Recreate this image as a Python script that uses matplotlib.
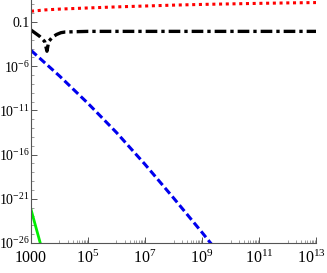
import numpy as np
import matplotlib
matplotlib.use("Agg")
import matplotlib.pyplot as plt
import matplotlib.transforms as mtransforms
from matplotlib.ticker import FixedLocator, NullFormatter

plt.rcParams['font.family'] = 'Liberation Serif'
plt.rcParams['mathtext.fontset'] = 'custom'
plt.rcParams['mathtext.rm'] = 'Liberation Serif'
plt.rcParams['mathtext.it'] = 'Liberation Serif:italic'

# values, as log10(x), log10(y)
red_lx = [3.0, 3.5, 4.0, 5.0, 6.0, 7.0, 8.0, 9.0, 10.0, 11.0, 12.0, 13.0]
red_ly = [0.23, 0.38, 0.47, 0.60, 0.72, 0.82, 0.92, 1.00, 1.06, 1.12, 1.17, 1.21]

black_lx = [3.0, 3.3, 3.48, 3.56, 3.62, 3.75, 3.9, 4.05, 4.2, 5.0, 13.0]
black_ly = [-1.9, -2.6, -3.2, -4.3, -3.2, -2.7, -2.4, -2.2, -2.12, -2.05, -2.05]

blue_lx = [3.0, 4.0, 5.0, 6.0, 7.0, 8.0, 9.0, 9.5]
blue_ly = [-4.2, -7.1, -10.2, -13.5, -17.1, -20.9, -24.8, -26.8]

green_lx = [3.0, 3.35]
green_ly = [-22.2, -26.3]

xticks = [1e3, 1e5, 1e7, 1e9, 1e11, 1e13]
xlabels = ['1000', '$10^{5}$', '$10^{7}$', '$10^{9}$', '$10^{11}$', '$10^{13}$']
yticks = [1e-1, 1e-6, 1e-11, 1e-16, 1e-21, 1e-26]
ylabels = ['0.1', '$10^{-6}$', '$10^{-11}$', '$10^{-16}$', '$10^{-21}$', '$10^{-26}$']


def pw(v):
    return 10.0 ** np.array(v)


fig = plt.figure(figsize=(3.27, 2.73), dpi=100)
ax = fig.add_axes([31 / 327, 30 / 273, 285 / 327, 243 / 273])

ax.plot(pw(red_lx), pw(red_ly), color='red', ls=(0, (1, 1.2)), lw=2.2)
ax.plot(pw(black_lx), pw(black_ly), color='black', ls=(0, (3.5, 1.2, 1, 1.2)), lw=2.4)
ax.plot(pw(blue_lx), pw(blue_ly), color='#0000ee', ls=(0, (2.5, 1.2)), lw=2.2)
ax.plot(pw(green_lx), pw(green_ly), color='#00ee00', lw=2.0)

ax.set_xscale('log')
ax.set_yscale('log')
ax.set_xlim(1e3, 1e13)
ax.set_ylim(1e-26, 10 ** 1.5)

ax.set_xticks(xticks)
ax.set_xticklabels(xlabels)
ax.set_yticks(yticks)
ax.set_yticklabels(ylabels)

xminor = [k * 10.0 ** e for e in [4, 6, 8, 10, 12] for k in range(1, 10)]
ax.xaxis.set_minor_locator(FixedLocator(xminor))
ax.xaxis.set_minor_formatter(NullFormatter())
yminor = [10.0 ** e for e in range(-26, 2)]
ax.yaxis.set_minor_locator(FixedLocator(yminor))
ax.yaxis.set_minor_formatter(NullFormatter())

for s in ['top', 'right']:
    ax.spines[s].set_visible(False)
for s in ['left', 'bottom']:
    ax.spines[s].set_color('#555555')
    ax.spines[s].set_linewidth(0.8)

ax.tick_params(which='major', direction='in', length=4, width=0.7, color='#555555')
ax.tick_params(which='minor', direction='in', length=2, width=0.5, color='#777777')
ax.tick_params(axis='x', pad=5, labelsize=11.5)
ax.tick_params(axis='y', pad=1, labelsize=10)

# last x label sits at the right edge; nudge it in a little
last = ax.get_xticklabels()[-1]
last.set_transform(last.get_transform() +
                   mtransforms.ScaledTranslation(-3 / 72, 0, fig.dpi_scale_trans))

fig.savefig('out.png', dpi=100)
